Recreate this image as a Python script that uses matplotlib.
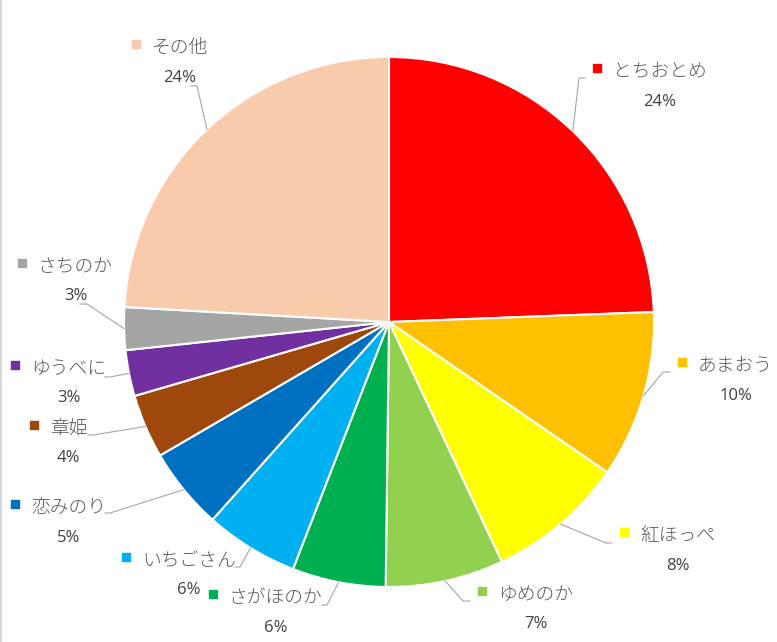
import numpy as np
import matplotlib
matplotlib.use("Agg")
import matplotlib.pyplot as plt

plt.rcParams['font.family'] = ['Noto Sans CJK JP', 'DejaVu Sans']

# Data (share of strawberry varieties, %)
varieties = ["とちおとめ", "あまおう", "紅ほっぺ", "ゆめのか", "さがほのか", "いちごさん",
             "恋みのり", "章姫", "ゆうべに", "さちのか", "その他"]
shares = [24.4, 10.2, 8.4, 7.2, 5.7, 5.7, 5.0, 3.9, 2.8, 2.6, 24.1]
colors = ["#FF0000", "#FFC000", "#FFFF00", "#92D050", "#00B050", "#00B0F0",
          "#0070C0", "#9E480E", "#7030A0", "#A5A5A5", "#F8CBAD"]

# Layout (pixels, y measured from top)
W, H = 777, 642
cx, cy, R = 389, 322, 265
name_pos = [(613, 72), (698, 366), (640, 536), (498, 595), (229, 598), (142, 561),
            (31, 508), (50, 429), (31, 369), (38, 267), (152, 48)]
elbow_pos = [(579, 78), (663, 372), (606, 543), (463, 601), (327, 605), (240, 567),
             (110, 513), (93, 435), (110, 377), (87, 304), (197, 86)]
elbow_end = [585, 670, 612, 470, 322, 235, 105, 88, 105, 80, 191]

fig = plt.figure(figsize=(W / 100, H / 100), dpi=100)
ax = fig.add_axes([0, 0, 1, 1])

wedges, _ = ax.pie(shares, colors=colors, center=(cx, H - cy), radius=R,
                   startangle=90, counterclock=False,
                   wedgeprops=dict(edgecolor="white", linewidth=1.5))
ax.set_xlim(0, W)
ax.set_ylim(0, H)
ax.set_aspect("equal")
ax.axis("off")

# left border of the chart area
ax.plot([1, 1], [0, H], color="#d9d9d9", lw=1.5)

fig.canvas.draw()
renderer = fig.canvas.get_renderer()

for i, w in enumerate(wedges):
    mid = np.deg2rad((w.theta1 + w.theta2) / 2)
    sx = cx + R * np.cos(mid)
    sy = H - cy + R * np.sin(mid)
    ex, ey = elbow_pos[i]
    ax.plot([sx, ex, elbow_end[i]], [sy, H - ey, H - ey], color="#a6a6a6", lw=0.8, zorder=3)

    nx, ny = name_pos[i]
    t = ax.text(nx, H - ny, varieties[i], ha="left", va="center", fontsize=13.5,
                color="#595959", fontweight="light")
    bb = t.get_window_extent(renderer)
    center_x = (bb.x0 + bb.x1) / 2
    ax.scatter([nx - 16], [H - ny + 4], marker="s", s=26, color=colors[i], zorder=4)
    ax.text(center_x, H - ny - 29.5, f"{shares[i]:.0f}%", ha="center", va="center",
            fontsize=12, color="#404040", family=["Open Sans", "DejaVu Sans"])

fig.savefig("out.png", dpi=100)
